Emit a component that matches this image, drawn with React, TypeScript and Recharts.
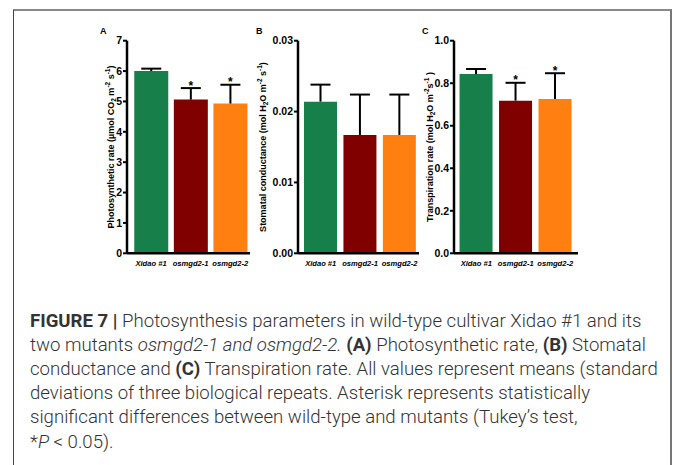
import React from "react";
import { BarChart, Bar, XAxis, YAxis, Cell } from "recharts";

const categories = ["Xidao #1", "osmgd2-1", "osmgd2-2"];
const barColors = ["#17804a", "#800000", "#ff8010"];

// A: photosynthetic rate
const photoMean = [6.0, 5.06, 4.93];
const photoSd = [0.08, 0.38, 0.62];
const photoSig = [false, true, true];
const photoTicks = [0, 1, 2, 3, 4, 5, 6, 7];

// B: stomatal conductance
const condMean = [0.0214, 0.0167, 0.0167];
const condSd = [0.0024, 0.0057, 0.0057];
const condSig = [false, false, false];
const condTicks = [0, 0.01, 0.02, 0.03];

// C: transpiration rate
const transMean = [0.843, 0.718, 0.726];
const transSd = [0.024, 0.084, 0.121];
const transSig = [false, true, true];
const transTicks = [0, 0.2, 0.4, 0.6, 0.8, 1.0];

const chartFont = "'Liberation Sans', Arial, sans-serif";
const captionFont = "Roboto, 'Liberation Sans', sans-serif";

function buildRows(mean: number[], sd: number[], sig: boolean[]) {
  return categories.map((name, i) => ({ name, mean: mean[i], sd: sd[i], sig: sig[i] }));
}

// draws the upper half of the error bar on top of the stacked "sd" segment
function ErrorShape(props: any) {
  const { x, y, width, height } = props;
  const sig = props.payload ? props.payload.sig : props.sig;
  const cx = x + width / 2;
  const cap = 20;
  return (
    <g>
      <line x1={cx} x2={cx} y1={y + height} y2={y} stroke="#000" strokeWidth={2} />
      <line x1={cx - cap / 2} x2={cx + cap / 2} y1={y} y2={y} stroke="#000" strokeWidth={2} />
      {sig && (
        <text x={cx} y={y + 1.5} textAnchor="middle" fontSize={12} fontWeight="bold" fontFamily={chartFont} fill="#000">
          *
        </text>
      )}
    </g>
  );
}

interface PanelProps {
  letter: string;
  letterX: number;
  axisX: number;
  plotRight: number;
  padLeft: number;
  padRight: number;
  barSize: number;
  rows: any[];
  ticks: number[];
  fmt: (v: number) => string;
  label: React.ReactNode;
  labelX: number;
}

const sup = { fontSize: 6.5 };

function Panel(p: PanelProps) {
  const yw = 40;
  const top = 30;
  const chartLeft = p.axisX - yw;
  const width = p.plotRight - chartLeft;
  return (
    <>
      <div
        style={{
          position: "absolute",
          left: p.letterX,
          top: 26,
          fontFamily: chartFont,
          fontWeight: "bold",
          fontSize: 9,
        }}
      >
        {p.letter}
      </div>
      <div
        style={{
          position: "absolute",
          left: p.labelX,
          top: 146.5,
          transform: "translate(-50%, -50%) rotate(-90deg)",
          whiteSpace: "nowrap",
          fontFamily: chartFont,
          fontWeight: "bold",
          fontSize: 9,
          lineHeight: "10px",
        }}
      >
        {p.label}
      </div>
      <div style={{ position: "absolute", left: chartLeft, top }}>
        <BarChart width={width} height={250} data={p.rows} margin={{ top: 10.7, right: 0, bottom: 0, left: 0 }}>
          <XAxis
            dataKey="name"
            padding={{ left: p.padLeft, right: p.padRight }}
            axisLine={{ stroke: "#000", strokeWidth: 2.5 }}
            tickLine={false}
            tickSize={0}
            tickMargin={7}
            height={26.7}
            interval={0}
            tick={{ fill: "#000", fontSize: 7.6, fontWeight: "bold", fontStyle: "italic", fontFamily: chartFont }}
          />
          <YAxis
            type="number"
            width={yw}
            domain={[0, p.ticks[p.ticks.length - 1]]}
            ticks={p.ticks}
            interval={0}
            tickFormatter={p.fmt}
            axisLine={{ stroke: "#000", strokeWidth: 2.5 }}
            tickLine={{ stroke: "#000", strokeWidth: 2 }}
            tickSize={4}
            tickMargin={1}
            tick={{ fill: "#000", fontSize: 10.5, fontWeight: "bold", fontFamily: chartFont }}
          />
          <Bar dataKey="mean" stackId="s" barSize={p.barSize} isAnimationActive={false}>
            {p.rows.map((r, i) => (
              <Cell key={r.name} fill={barColors[i]} />
            ))}
          </Bar>
          <Bar dataKey="sd" stackId="s" barSize={p.barSize} isAnimationActive={false} shape={ErrorShape} />
        </BarChart>
      </div>
    </>
  );
}

const lineTop = 308.5;
const lineGap = 24.2;

function CaptionLine({ i, children }: { i: number; children: React.ReactNode }) {
  return (
    <div
      style={{
        position: "absolute",
        left: 30,
        top: lineTop + i * lineGap,
        whiteSpace: "nowrap",
        fontFamily: captionFont,
        fontWeight: 300,
        fontSize: 18.6,
        lineHeight: lineGap + "px",
        color: "#333",
      }}
    >
      {children}
    </div>
  );
}

const bold = { fontWeight: 700 };

export default function App() {
  return (
    <div style={{ position: "absolute", left: 0, top: 0, width: 673, height: 465, background: "#fff", overflow: "hidden" }}>
      <div
        style={{
          position: "absolute",
          left: 13,
          top: 9,
          width: 656,
          height: 470,
          borderLeft: "1px solid #444",
          borderTop: "2px solid #888",
          borderRight: "2px solid #777",
        }}
      />
      <Panel
        letter="A"
        letterX={100}
        axisX={127}
        plotRight={250}
        padLeft={4.25}
        padRight={0}
        barSize={34}
        rows={buildRows(photoMean, photoSd, photoSig)}
        ticks={photoTicks}
        fmt={(v) => String(v)}
        labelX={110.7}
        label={
          <>
            Photosynthetic rate (µmol CO<sub style={sup}>2</sub> m<sup style={sup}>-2</sup> s<sup style={sup}>-1</sup>)
          </>
        }
      />
      <Panel
        letter="B"
        letterX={256}
        axisX={297.7}
        plotRight={419}
        padLeft={3}
        padRight={0}
        barSize={33}
        rows={buildRows(condMean, condSd, condSig)}
        ticks={condTicks}
        fmt={(v) => v.toFixed(2)}
        labelX={263}
        label={
          <>
            Stomatal conductance (mol H<sub style={sup}>2</sub>O m<sup style={sup}>-2</sup> s<sup style={sup}>-1</sup>)
          </>
        }
      />
      <Panel
        letter="C"
        letterX={422}
        axisX={454}
        plotRight={578}
        padLeft={2.55}
        padRight={3}
        barSize={33}
        rows={buildRows(transMean, transSd, transSig)}
        ticks={transTicks}
        fmt={(v) => v.toFixed(1)}
        labelX={430}
        label={
          <>
            Transpiration rate (mol H<sub style={sup}>2</sub>O m<sup style={sup}>-2</sup>s<sup style={sup}>-1</sup> )
          </>
        }
      />
      <CaptionLine i={0}>
        <b style={bold}>FIGURE 7 |</b> Photosynthesis parameters in wild-type cultivar Xidao #1 and its
      </CaptionLine>
      <CaptionLine i={1}>
        two mutants <i>osmgd2-1 and osmgd2-2.</i> <b style={bold}>(A)</b> Photosynthetic rate, <b style={bold}>(B)</b>{" "}
        Stomatal
      </CaptionLine>
      <CaptionLine i={2}>
        conductance and <b style={bold}>(C)</b> Transpiration rate. All values represent means (standard
      </CaptionLine>
      <CaptionLine i={3}>deviations of three biological repeats. Asterisk represents statistically</CaptionLine>
      <CaptionLine i={4}>significant differences between wild-type and mutants (Tukey’s test,</CaptionLine>
      <CaptionLine i={5}>
        *<i>P</i> &lt; 0.05).
      </CaptionLine>
    </div>
  );
}
